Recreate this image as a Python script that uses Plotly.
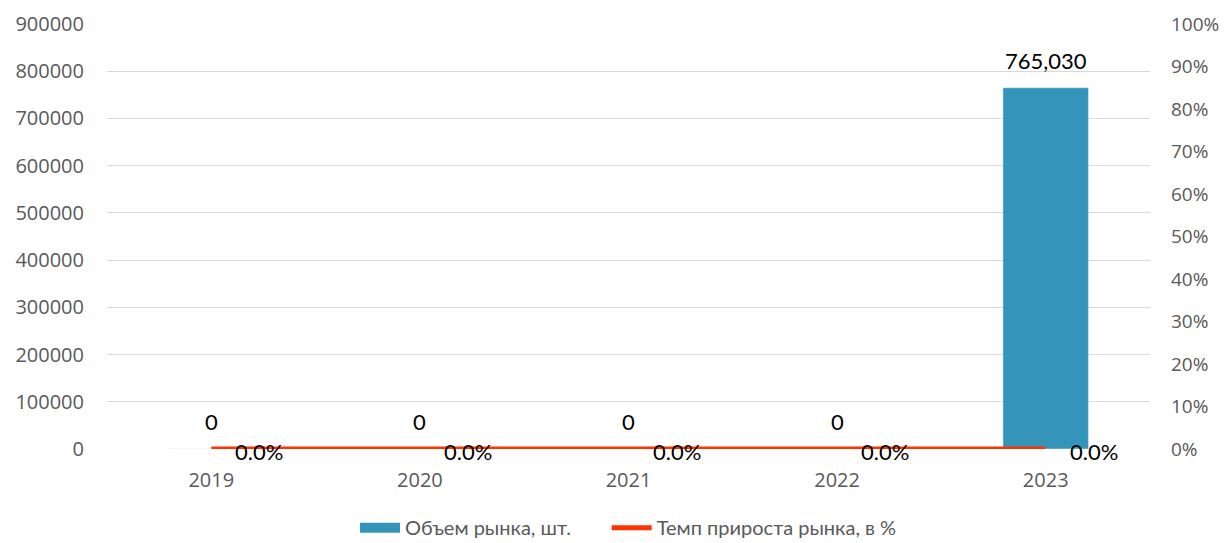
import plotly.graph_objects as go

years = ["2019", "2020", "2021", "2022", "2023"]
volume = [0, 0, 0, 0, 765030]
growth = [0.0, 0.0, 0.0, 0.0, 0.0]
vol_name = "Объем рынка, шт."
growth_name = "Темп прироста рынка, в %"

bar_color = "#3494BA"
line_color = "#FF3300"
tick_color = "#595959"
label_font = dict(family="Lato, Noto Sans, sans-serif", size=22, color="#000000")

fig = go.Figure()
fig.add_trace(go.Bar(x=years, y=volume, marker_color=bar_color, width=0.41,
                     showlegend=False, name=vol_name, yaxis="y"))
# legend proxy for the bar (wide rectangle like the reference)
fig.add_trace(go.Scatter(x=[years[0]], y=[None], mode="lines",
                         name=vol_name + "\u00a0" * 6,
                         line=dict(color=bar_color, width=12), yaxis="y"))
fig.add_trace(go.Scatter(x=years, y=growth, mode="lines", name=growth_name,
                         line=dict(color=line_color, width=5), yaxis="y2", cliponaxis=False))

anns = []
for i, v in enumerate(volume):
    anns.append(dict(x=i, y=v, xref="x", yref="y", text=f"{v:,}", showarrow=False,
                     yanchor="bottom", yshift=12, font=label_font))
for i, g in enumerate(growth):
    anns.append(dict(x=i, y=g, xref="x", yref="y2", text=f"{g*100:.1f}%", showarrow=False,
                     xanchor="center", yanchor="middle", xshift=48, yshift=-2, font=label_font))

fig.update_layout(
    width=1221, height=535,
    margin=dict(l=99, r=79, t=16, b=94, autoexpand=False),
    paper_bgcolor="white", plot_bgcolor="white",
    font=dict(family="Open Sans, Noto Sans, sans-serif", size=20, color=tick_color),
    xaxis=dict(type="category", categoryorder="array", categoryarray=years,
               range=[-0.5, len(years) - 0.5], ticklabelstandoff=17,
               showgrid=False, showline=False, ticks="", tickfont=dict(size=20, color=tick_color)),
    yaxis=dict(range=[0, 900000], dtick=100000, tickformat="d", gridcolor="#D9D9D9",
               gridwidth=1, zeroline=False, showline=False, ticks="", ticklabelstandoff=22,
               tickfont=dict(size=20, color=tick_color)),
    yaxis2=dict(range=[0, 1], dtick=0.1, tickformat=".0%", overlaying="y", side="right",
                showgrid=False, zeroline=False, showline=False, ticks="",
                ticklabelstandoff=20, tickfont=dict(size=19, color=tick_color)),
    legend=dict(orientation="h", x=0.5, xanchor="center", y=-0.185, yanchor="middle",
                font=dict(family="Lato, Noto Sans, sans-serif", size=20, color=tick_color),
                itemwidth=40, tracegroupgap=0),
    annotations=anns,
)
fig.write_html("out.html")
